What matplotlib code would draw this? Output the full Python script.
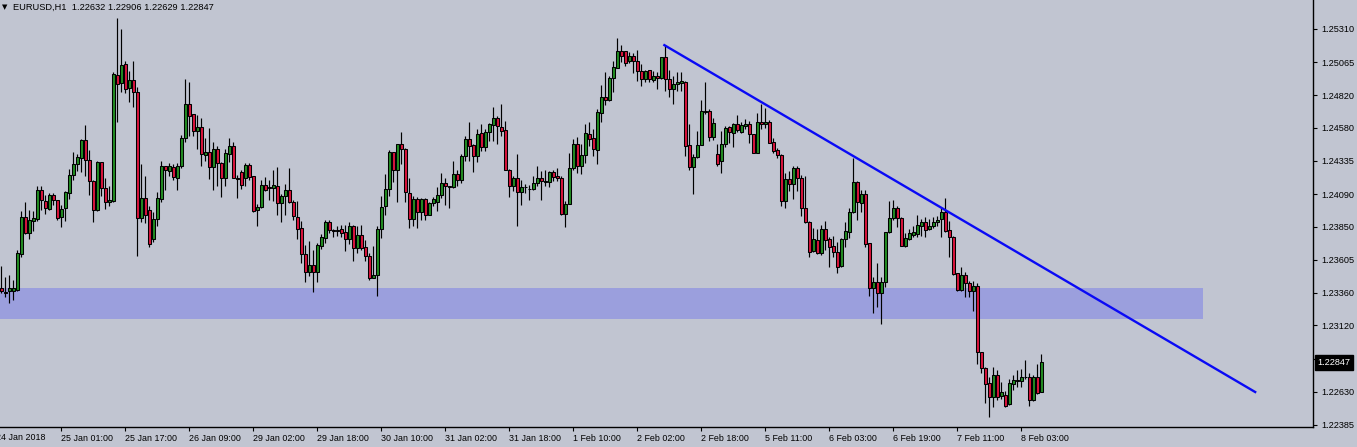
import matplotlib
matplotlib.use("Agg")
import matplotlib.pyplot as plt
from matplotlib.patches import Rectangle
from matplotlib.transforms import blended_transform_factory
import numpy as np

# EURUSD H1 candles (bar 0 = leftmost candle)
opens = [
    1.23394, 1.23370, 1.23374, 1.23374, 1.23381, 1.23648, 1.23921, 1.23802, 1.23895, 1.23910,
    1.24123, 1.24042, 1.23982, 1.24086, 1.24047, 1.23918, 1.23984, 1.24096, 1.24229, 1.24311,
    1.24355, 1.24487, 1.24344, 1.24190, 1.23970, 1.24324, 1.24136, 1.24029, 1.24039, 1.24969,
    1.24910, 1.25051, 1.24875, 1.24930, 1.24848, 1.23913, 1.24062, 1.23975, 1.23760, 1.23906,
    1.24054, 1.24296, 1.24262, 1.24292, 1.24207, 1.24296, 1.24502, 1.24754, 1.24680, 1.24554,
    1.24588, 1.24378, 1.24403, 1.24289, 1.24420, 1.24321, 1.24210, 1.24390, 1.24448, 1.24210,
    1.24255, 1.24207, 1.24307, 1.24222, 1.23970, 1.23992, 1.24160, 1.24140, 1.24133, 1.24153,
    1.24022, 1.24074, 1.24123, 1.24034, 1.23923, 1.23841, 1.23648, 1.23517, 1.23567, 1.23517,
    1.23710, 1.23769, 1.23886, 1.23824, 1.23819, 1.23832, 1.23812, 1.23762, 1.23851, 1.23691,
    1.23787, 1.23698, 1.23634, 1.23472, 1.23493, 1.23832, 1.23999, 1.24128, 1.24400, 1.24266,
    1.24457, 1.24425, 1.24099, 1.23906, 1.24056, 1.23955, 1.24056, 1.23936, 1.24025, 1.24029,
    1.24084, 1.24173, 1.24150, 1.24143, 1.24240, 1.24192, 1.24370, 1.24494, 1.24450, 1.24370,
    1.24544, 1.24440, 1.24548, 1.24600, 1.24650, 1.24588, 1.24561, 1.24272, 1.24148, 1.24210,
    1.24106, 1.24140, 1.24130, 1.24128, 1.24173, 1.24210, 1.24180, 1.24177, 1.24255, 1.24222,
    1.24210, 1.23943, 1.24017, 1.24284, 1.24462, 1.24296, 1.24381, 1.24537, 1.24502, 1.24415,
    1.24689, 1.24811, 1.24786, 1.24945, 1.25023, 1.25145, 1.25145, 1.25071, 1.25108, 1.25071,
    1.24997, 1.24939, 1.25006, 1.24934, 1.24962, 1.24947, 1.25100, 1.24939, 1.24865, 1.24902,
    1.24908, 1.24919, 1.24455, 1.24289, 1.24363, 1.24455, 1.24700, 1.24702, 1.24511, 1.24388,
    1.24333, 1.24462, 1.24585, 1.24544, 1.24611, 1.24551, 1.24593, 1.24611, 1.24531, 1.24396,
    1.24626, 1.24606, 1.24626, 1.24477, 1.24413, 1.24381, 1.24036, 1.24205, 1.24166, 1.24284,
    1.24210, 1.23987, 1.23884, 1.23670, 1.23752, 1.23658, 1.23832, 1.23760, 1.23708, 1.23661,
    1.23559, 1.23757, 1.23814, 1.23958, 1.24180, 1.24025, 1.24094, 1.23728, 1.23394, 1.23438,
    1.23357, 1.23438, 1.23809, 1.23913, 1.23987, 1.23913, 1.23710, 1.23757, 1.23789, 1.23794,
    1.23858, 1.23884, 1.23832, 1.23851, 1.23881, 1.23906, 1.23958, 1.23826, 1.23777, 1.23505,
    1.23381, 1.23493, 1.23431, 1.23374, 1.23413, 1.22923, 1.22808, 1.22693, 1.22590, 1.22751,
    1.22602, 1.22607, 1.22541, 1.22689, 1.22716, 1.22708, 1.22740, 1.22738, 1.22572, 1.22743,
    1.22632,
]
highs = [
    1.23559, 1.23480, 1.23493, 1.23455, 1.23678, 1.23967, 1.24029, 1.23975, 1.23967, 1.24153,
    1.24153, 1.24084, 1.24101, 1.24101, 1.24050, 1.24012, 1.24111, 1.24279, 1.24403, 1.24388,
    1.24496, 1.24598, 1.24418, 1.24197, 1.24333, 1.24328, 1.24210, 1.24148, 1.24989, 1.25390,
    1.25310, 1.25073, 1.25001, 1.25073, 1.24878, 1.24316, 1.24227, 1.23999, 1.23958, 1.24106,
    1.24338, 1.24301, 1.24321, 1.24314, 1.24321, 1.24526, 1.24939, 1.24919, 1.24683, 1.24672,
    1.24655, 1.24507, 1.24581, 1.24477, 1.24445, 1.24326, 1.24425, 1.24507, 1.24477, 1.24232,
    1.24272, 1.24318, 1.24321, 1.24227, 1.24019, 1.24197, 1.24217, 1.24192, 1.24272, 1.24292,
    1.24094, 1.24168, 1.24284, 1.24049, 1.24042, 1.23893, 1.23715, 1.23745, 1.23678, 1.23728,
    1.23797, 1.23901, 1.23901, 1.23832, 1.23851, 1.23864, 1.23864, 1.23886, 1.23864, 1.23851,
    1.23864, 1.23752, 1.23654, 1.23708, 1.23851, 1.24079, 1.24242, 1.24413, 1.24404, 1.24460,
    1.24548, 1.24428, 1.24210, 1.24074, 1.24069, 1.24062, 1.24062, 1.24029, 1.24069, 1.24143,
    1.24247, 1.24210, 1.24150, 1.24338, 1.24272, 1.24383, 1.24519, 1.24626, 1.24462, 1.24568,
    1.24611, 1.24568, 1.24618, 1.24737, 1.24667, 1.24754, 1.24630, 1.24275, 1.24227, 1.24390,
    1.24197, 1.24168, 1.24160, 1.24222, 1.24296, 1.24264, 1.24272, 1.24259, 1.24272, 1.24284,
    1.24227, 1.24036, 1.24396, 1.24499, 1.24514, 1.24457, 1.24606, 1.24626, 1.24568, 1.24717,
    1.24895, 1.24989, 1.24964, 1.25071, 1.25241, 1.25192, 1.25150, 1.25142, 1.25132, 1.25157,
    1.25051, 1.25008, 1.25008, 1.24997, 1.24989, 1.25103, 1.25192, 1.25006, 1.24964, 1.24994,
    1.24989, 1.24927, 1.24606, 1.24383, 1.24556, 1.24784, 1.24919, 1.24717, 1.24655, 1.24457,
    1.24556, 1.24593, 1.24593, 1.24618, 1.24672, 1.24623, 1.24643, 1.24630, 1.24535, 1.24687,
    1.24754, 1.24724, 1.24635, 1.24507, 1.24433, 1.24385, 1.24247, 1.24259, 1.24301, 1.24296,
    1.24235, 1.24222, 1.23888, 1.23839, 1.23832, 1.23864, 1.23888, 1.23777, 1.23782, 1.23740,
    1.23765, 1.23881, 1.23987, 1.24358, 1.24185, 1.24123, 1.24123, 1.23731, 1.23480, 1.23579,
    1.23480, 1.23814, 1.24042, 1.24049, 1.23999, 1.23918, 1.23802, 1.23832, 1.23851, 1.23938,
    1.23906, 1.23921, 1.23906, 1.23921, 1.23925, 1.23987, 1.24062, 1.23888, 1.23780, 1.23508,
    1.23550, 1.23517, 1.23448, 1.23448, 1.23431, 1.22926, 1.22812, 1.22738, 1.22812, 1.22788,
    1.22700, 1.22639, 1.22726, 1.22756, 1.22788, 1.22800, 1.22862, 1.22768, 1.22756, 1.22837,
    1.22906,
]
lows = [
    1.23361, 1.23332, 1.23287, 1.23307, 1.23374, 1.23628, 1.23797, 1.23762, 1.23821, 1.23895,
    1.23970, 1.23940, 1.23973, 1.24007, 1.23901, 1.23844, 1.23895, 1.24051, 1.24197, 1.24259,
    1.24255, 1.24222, 1.24086, 1.23886, 1.23965, 1.24074, 1.23982, 1.23999, 1.24029, 1.24623,
    1.24845, 1.24836, 1.24771, 1.24734, 1.23636, 1.23881, 1.23876, 1.23703, 1.23740, 1.23858,
    1.24029, 1.24118, 1.24222, 1.24197, 1.24123, 1.24281, 1.24474, 1.24519, 1.24519, 1.24420,
    1.24296, 1.24338, 1.24205, 1.24123, 1.24148, 1.24066, 1.24153, 1.24326, 1.24207, 1.24059,
    1.24128, 1.24153, 1.24197, 1.23955, 1.23851, 1.23987, 1.24111, 1.24049, 1.24042, 1.23938,
    1.23881, 1.23938, 1.24025, 1.23901, 1.23762, 1.23584, 1.23443, 1.23485, 1.23364, 1.23443,
    1.23683, 1.23732, 1.23806, 1.23777, 1.23782, 1.23777, 1.23670, 1.23720, 1.23597, 1.23658,
    1.23678, 1.23597, 1.23455, 1.23470, 1.23337, 1.23769, 1.23938, 1.24079, 1.24177, 1.24029,
    1.24309, 1.24029, 1.23839, 1.23856, 1.23839, 1.23901, 1.23901, 1.23933, 1.24005, 1.23962,
    1.24062, 1.24012, 1.23987, 1.24136, 1.24148, 1.24173, 1.24333, 1.24333, 1.24252, 1.24326,
    1.24407, 1.24407, 1.24482, 1.24482, 1.24457, 1.24519, 1.24268, 1.24066, 1.24116, 1.23856,
    1.24012, 1.24099, 1.24049, 1.24123, 1.24148, 1.24049, 1.24148, 1.24140, 1.24185, 1.24185,
    1.23933, 1.23844, 1.24014, 1.24272, 1.24247, 1.24242, 1.24321, 1.24445, 1.24370, 1.24309,
    1.24623, 1.24747, 1.24779, 1.24841, 1.25019, 1.25063, 1.25034, 1.25056, 1.24982, 1.24927,
    1.24890, 1.24922, 1.24915, 1.24915, 1.24870, 1.24939, 1.24853, 1.24804, 1.24754, 1.24853,
    1.24853, 1.24375, 1.24272, 1.24091, 1.24358, 1.24450, 1.24680, 1.24482, 1.24487, 1.24296,
    1.24247, 1.24437, 1.24470, 1.24437, 1.24548, 1.24544, 1.24568, 1.24470, 1.24392, 1.24392,
    1.24568, 1.24581, 1.24465, 1.24396, 1.24358, 1.23999, 1.23987, 1.24111, 1.24054, 1.24111,
    1.23930, 1.23876, 1.23624, 1.23661, 1.23646, 1.23641, 1.23678, 1.23550, 1.23628, 1.23505,
    1.23554, 1.23703, 1.23765, 1.23950, 1.23901, 1.23955, 1.23703, 1.23341, 1.23213, 1.23257,
    1.23134, 1.23406, 1.23802, 1.23901, 1.23848, 1.23708, 1.23703, 1.23752, 1.23777, 1.23777,
    1.23782, 1.23777, 1.23826, 1.23839, 1.23851, 1.23772, 1.23814, 1.23624, 1.23493, 1.23374,
    1.23378, 1.23332, 1.23332, 1.23228, 1.22837, 1.22768, 1.22545, 1.22441, 1.22521, 1.22570,
    1.22578, 1.22515, 1.22535, 1.22644, 1.22669, 1.22664, 1.22721, 1.22528, 1.22565, 1.22615,
    1.22629,
]
closes = [
    1.23374, 1.23362, 1.23394, 1.23394, 1.23654, 1.23921, 1.23806, 1.23901, 1.23913, 1.24123,
    1.24044, 1.23984, 1.24086, 1.24044, 1.23915, 1.23980, 1.24103, 1.24234, 1.24314, 1.24361,
    1.24487, 1.24341, 1.24185, 1.23970, 1.24324, 1.24133, 1.24029, 1.24047, 1.24974, 1.24905,
    1.25043, 1.24870, 1.24930, 1.24847, 1.23913, 1.24062, 1.23936, 1.23725, 1.23906, 1.24062,
    1.24296, 1.24266, 1.24296, 1.24215, 1.24296, 1.24507, 1.24754, 1.24667, 1.24556, 1.24588,
    1.24383, 1.24403, 1.24289, 1.24420, 1.24318, 1.24210, 1.24396, 1.24448, 1.24210, 1.24205,
    1.24155, 1.24307, 1.24217, 1.23962, 1.23992, 1.24158, 1.24123, 1.24132, 1.24160, 1.24022,
    1.24079, 1.24123, 1.24029, 1.23925, 1.23836, 1.23646, 1.23517, 1.23567, 1.23517, 1.23715,
    1.23777, 1.23886, 1.23824, 1.23819, 1.23824, 1.23806, 1.23762, 1.23851, 1.23691, 1.23787,
    1.23695, 1.23636, 1.23468, 1.23490, 1.23832, 1.23995, 1.24128, 1.24400, 1.24266, 1.24457,
    1.24420, 1.24106, 1.23906, 1.24056, 1.23955, 1.24056, 1.23936, 1.24025, 1.24056, 1.24084,
    1.24173, 1.24148, 1.24146, 1.24240, 1.24192, 1.24375, 1.24494, 1.24445, 1.24370, 1.24531,
    1.24440, 1.24551, 1.24606, 1.24650, 1.24593, 1.24556, 1.24272, 1.24148, 1.24210, 1.24106,
    1.24143, 1.24145, 1.24125, 1.24173, 1.24210, 1.24185, 1.24185, 1.24255, 1.24217, 1.24210,
    1.23943, 1.24019, 1.24284, 1.24462, 1.24296, 1.24381, 1.24544, 1.24494, 1.24420, 1.24700,
    1.24811, 1.24786, 1.24945, 1.25026, 1.25145, 1.25108, 1.25056, 1.25108, 1.25071, 1.24997,
    1.24939, 1.25001, 1.24939, 1.24964, 1.24951, 1.25100, 1.24939, 1.24865, 1.24902, 1.24915,
    1.24925, 1.24445, 1.24289, 1.24368, 1.24455, 1.24702, 1.24705, 1.24511, 1.24618, 1.24314,
    1.24462, 1.24581, 1.24548, 1.24611, 1.24561, 1.24598, 1.24611, 1.24531, 1.24396, 1.24626,
    1.24606, 1.24626, 1.24470, 1.24407, 1.24378, 1.24036, 1.24205, 1.24166, 1.24284, 1.24210,
    1.23987, 1.23884, 1.23665, 1.23757, 1.23658, 1.23832, 1.23752, 1.23703, 1.23665, 1.23554,
    1.23757, 1.23819, 1.23958, 1.24180, 1.24032, 1.24094, 1.23723, 1.23394, 1.23438, 1.23357,
    1.23438, 1.23809, 1.23913, 1.23987, 1.23913, 1.23710, 1.23765, 1.23802, 1.23809, 1.23864,
    1.23884, 1.23826, 1.23851, 1.23884, 1.23901, 1.23958, 1.23821, 1.23777, 1.23500, 1.23381,
    1.23493, 1.23431, 1.23374, 1.23413, 1.22923, 1.22805, 1.22689, 1.22590, 1.22751, 1.22595,
    1.22632, 1.22528, 1.22696, 1.22719, 1.22713, 1.22743, 1.22736, 1.22572, 1.22743, 1.22622,
    1.22847,
]

time_labels = ["25 Jan 01:00", "25 Jan 17:00", "26 Jan 09:00", "29 Jan 02:00",
               "29 Jan 18:00", "30 Jan 10:00", "31 Jan 02:00", "31 Jan 18:00",
               "1 Feb 10:00", "2 Feb 02:00", "2 Feb 18:00", "5 Feb 11:00",
               "6 Feb 03:00", "6 Feb 19:00", "7 Feb 11:00", "8 Feb 03:00"]
time_ticks = [15, 31, 47, 63, 79, 95, 111, 127, 143, 159, 175, 191, 207, 223, 239, 255]
first_label = "24 Jan 2018"
first_tick = -1.4

price_ticks = [1.25310, 1.25065, 1.24820, 1.24580, 1.24335, 1.24090, 1.23850,
               1.23605, 1.23360, 1.23120, 1.22875, 1.22630, 1.22385]

# support zone and falling trend line drawn on the chart
zone_low, zone_high = 1.23168, 1.23398
zone_end = 300.4
trend_x = [165.5, 313.7]
trend_y = [1.25195, 1.22624]

symbol = "EURUSD,H1"

BG = "#C1C5D1"
BULL = "#228B22"
BEAR = "#D8143C"
FONT = ["Liberation Sans", "DejaVu Sans"]

o = np.array(opens)
h = np.array(highs)
l = np.array(lows)
c = np.array(closes)
x = np.arange(len(o))

fig = plt.figure(figsize=(13.57, 4.47), dpi=100)
fig.patch.set_facecolor(BG)
ax = fig.add_axes([0, 20 / 447, 1313 / 1357, 427 / 447])
ax.set_facecolor(BG)

ax.add_patch(Rectangle((-10, zone_low), zone_end + 10, zone_high - zone_low,
                       facecolor="#9B9FDD", edgecolor="none", zorder=1))

ax.vlines(x, l, h, color="black", lw=0.85, zorder=2)
bottoms = np.minimum(o, c)
heights = np.maximum(np.abs(c - o), 0.000015)
colors = np.where(c >= o, BULL, BEAR)
ax.bar(x, heights, bottom=bottoms, width=0.62, color=colors,
       edgecolor="black", linewidth=0.75, zorder=3)

ax.plot(trend_x, trend_y, color="#0A0AF5", lw=1.7, zorder=4, solid_capstyle="butt")

ax.set_xlim(-0.325, 327.9)
ax.set_ylim(1.22370, 1.25524)

for side in ["top", "left"]:
    ax.spines[side].set_visible(False)
for side in ["right", "bottom"]:
    ax.spines[side].set_color("black")
    ax.spines[side].set_linewidth(1.0)

ax.yaxis.tick_right()
ax.set_yticks(price_ticks)
ax.set_yticklabels([f"{p:.5f}" for p in price_ticks], fontsize=6.6, family=FONT)
ax.tick_params(axis="y", direction="out", length=3, width=0.8, pad=3, colors="black")

ax.set_xticks(time_ticks)
ax.set_xticklabels(time_labels, fontsize=6.4, family=FONT)
for lbl in ax.get_xticklabels():
    lbl.set_horizontalalignment("left")
ax.tick_params(axis="x", direction="out", length=3, width=0.8, pad=2.0, colors="black")

# label of the first (cut off) tick, left of the visible area
xt = blended_transform_factory(ax.transData, ax.transAxes)
ax.text(first_tick, -0.0145, first_label, transform=xt, ha="left", va="top",
        fontsize=6.4, family=FONT, clip_on=False)

# current price marker
yt = blended_transform_factory(ax.transAxes, ax.transData)
ax.text(1.0034, closes[-1], f"{closes[-1]:.5f}", transform=yt, ha="left", va="center",
        color="white", fontsize=6.6, family=FONT, zorder=10, clip_on=False,
        bbox=dict(boxstyle="square,pad=0.3", facecolor="black", edgecolor="black"))

# header
ax.text(0.0015, 0.9836, "\u25BC", transform=ax.transAxes, ha="left", va="center",
        fontsize=5, family="DejaVu Sans")
ax.text(0.0099, 0.9836,
        f"{symbol}  {opens[-1]:.5f} {highs[-1]:.5f} {lows[-1]:.5f} {closes[-1]:.5f}",
        transform=ax.transAxes, ha="left", va="center", fontsize=6.7, family=FONT)

fig.savefig("out.png", dpi=100, facecolor=BG)
